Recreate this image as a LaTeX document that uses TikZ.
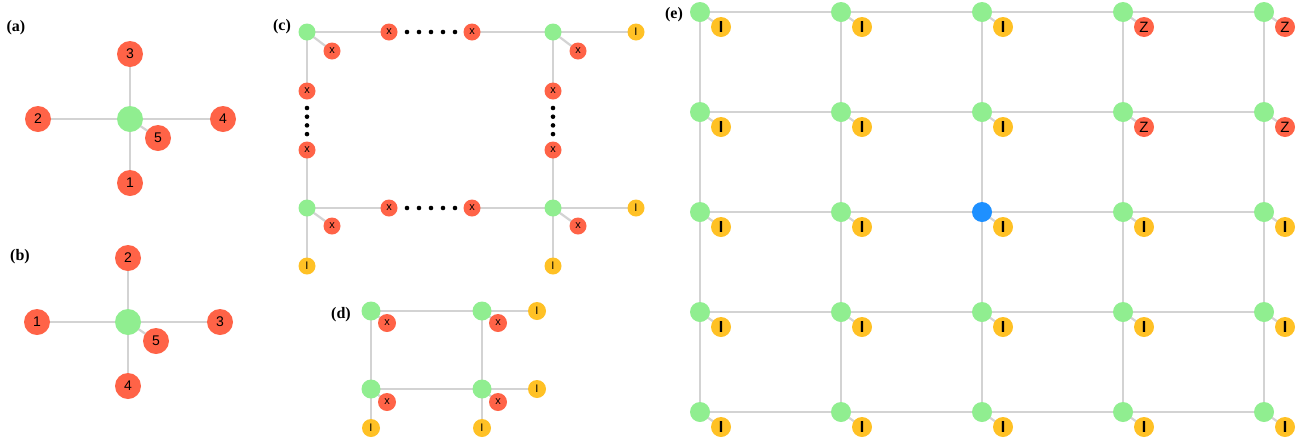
\documentclass[tikz,border=0pt]{standalone}
\usepackage{fontspec}
\newfontfamily\nodefont{Liberation Sans}
\newfontfamily\tagfont{Liberation Serif}
\pgfdeclarelayer{bg}
\pgfsetlayers{bg,main}
\definecolor{nred}{HTML}{FF6347}
\definecolor{ngreen}{HTML}{90EE90}
\definecolor{nyellow}{HTML}{FFC125}
\definecolor{nblue}{HTML}{1E90FF}
\definecolor{edgegray}{HTML}{D3D3D3}
\begin{document}
\begin{tikzpicture}[x=1pt,y=-1pt,
  every node/.style={inner sep=0pt, outer sep=0pt},
  tag/.style={font=\tagfont\bfseries\fontsize{16}{16}\selectfont},
  link/.style={draw=edgegray, line width=2.2pt},
  gbig/.style={circle, fill=ngreen, minimum size=26pt},
  rbig/.style={circle, fill=nred, minimum size=26pt, font=\nodefont\fontsize{14}{14}\selectfont},
  gsm/.style={circle, fill=ngreen, minimum size=17pt},
  rsm/.style={circle, fill=nred, minimum size=17pt, font=\nodefont\fontsize{11}{11}\selectfont},
  ysm/.style={circle, fill=nyellow, minimum size=17pt, font=\nodefont\fontsize{11}{11}\selectfont},
  gmid/.style={circle, fill=ngreen, minimum size=19pt},
  rmid/.style={circle, fill=nred, minimum size=18pt, font=\nodefont\fontsize{11}{11}\selectfont},
  ymid/.style={circle, fill=nyellow, minimum size=18pt, font=\nodefont\fontsize{11}{11}\selectfont},
  gsite/.style={circle, fill=ngreen, minimum size=20pt},
  bsite/.style={circle, fill=nblue, minimum size=20pt},
  ysite/.style={circle, fill=nyellow, minimum size=20pt, font=\nodefont\bfseries\fontsize{16}{16}\selectfont},
  zsite/.style={circle, fill=nred, minimum size=20pt, font=\nodefont\fontsize{15}{15}\selectfont},
  dotmark/.style={fill=black},
]
\useasboundingbox (0,0) rectangle (1302,440);

% ---------- (a) star ----------
\node[tag] (ta) at (16,28) {(a)};
\node[gbig] (ac) at (130,119) {};
\node[rbig] (a3) at (130,54) {3};
\node[rbig] (a2) at (38,119) {2};
\node[rbig] (a4) at (223,119) {4};
\node[rbig] (a5) at (158,138) {5};
\node[rbig] (a1) at (130,183) {1};
\begin{pgfonlayer}{bg}
  \foreach \n in {a1,a2,a3,a4,a5} \draw[link] (ac.center) -- (\n.center);
\end{pgfonlayer}

% ---------- (b) star ----------
\node[tag] (tb) at (20,257) {(b)};
\node[gbig] (bc) at (128,322) {};
\node[rbig] (b2) at (128,258) {2};
\node[rbig] (b1) at (37,322) {1};
\node[rbig] (b3) at (220,322) {3};
\node[rbig] (b5) at (156,341) {5};
\node[rbig] (b4) at (128,386) {4};
\begin{pgfonlayer}{bg}
  \foreach \n in {b1,b2,b3,b4,b5} \draw[link] (bc.center) -- (\n.center);
\end{pgfonlayer}

% ---------- (c) chain with elided sites ----------
\node[tag] (tc) at (282,27) {(c)};
\node[gsm] (c11) at (307,32) {};
\node[gsm] (c12) at (553,32) {};
\node[gsm] (c21) at (307,208) {};
\node[gsm] (c22) at (553,208) {};
\node[rsm] (cx11) at (332,51) {x};
\node[rsm] (cx12) at (578,51) {x};
\node[rsm] (cx21) at (332,226) {x};
\node[rsm] (cx22) at (578,226) {x};
\node[rsm] (ct1) at (389,32) {x};
\node[rsm] (ct2) at (472,32) {x};
\node[rsm] (cb1) at (389,208) {x};
\node[rsm] (cb2) at (472,208) {x};
\node[rsm] (cl1) at (307,91) {x};
\node[rsm] (cl2) at (307,150) {x};
\node[rsm] (cr1) at (553,91) {x};
\node[rsm] (cr2) at (553,150) {x};
\node[ysm] (cy12) at (636,32) {I};
\node[ysm] (cy22) at (636,208) {I};
\node[ysm] (cyb1) at (307,266) {I};
\node[ysm] (cyb2) at (553,266) {I};
\foreach \k in {0,...,4} {
  \fill[dotmark] (407+12*\k,32) circle (2.3);
  \fill[dotmark] (407+12*\k,208) circle (2.3);
}
\foreach \k in {0,...,3} {
  \fill[dotmark] (307,108+8.7*\k) circle (2.3);
  \fill[dotmark] (553,108+8.7*\k) circle (2.3);
}
\begin{pgfonlayer}{bg}
  \draw[link] (c11.center) -- (ct1.center);
  \draw[link] (ct2.center) -- (c12.center);
  \draw[link] (c21.center) -- (cb1.center);
  \draw[link] (cb2.center) -- (c22.center);
  \draw[link] (c11.center) -- (cl1.center);
  \draw[link] (cl2.center) -- (c21.center);
  \draw[link] (c12.center) -- (cr1.center);
  \draw[link] (cr2.center) -- (c22.center);
  \draw[link] (c11.center) -- (cx11.center);
  \draw[link] (c12.center) -- (cx12.center);
  \draw[link] (c21.center) -- (cx21.center);
  \draw[link] (c22.center) -- (cx22.center);
  \draw[link] (c12.center) -- (cy12.center);
  \draw[link] (c22.center) -- (cy22.center);
  \draw[link] (c21.center) -- (cyb1.center);
  \draw[link] (c22.center) -- (cyb2.center);
\end{pgfonlayer}

% ---------- (d) 2x2 plaquette ----------
\node[tag] (td) at (341,315) {(d)};
\node[gmid] (d11) at (371,311) {};
\node[gmid] (d12) at (482,311) {};
\node[gmid] (d21) at (371,389) {};
\node[gmid] (d22) at (482,389) {};
\node[rmid] (dx11) at (387,323) {x};
\node[rmid] (dx12) at (498,323) {x};
\node[rmid] (dx21) at (387,402) {x};
\node[rmid] (dx22) at (498,402) {x};
\node[ymid] (dy12) at (537,311) {I};
\node[ymid] (dy22) at (537,389) {I};
\node[ymid] (dyb1) at (371,428) {I};
\node[ymid] (dyb2) at (482,428) {I};
\begin{pgfonlayer}{bg}
  \draw[link] (d11.center) -- (d12.center);
  \draw[link] (d21.center) -- (d22.center);
  \draw[link] (d11.center) -- (d21.center);
  \draw[link] (d12.center) -- (d22.center);
  \draw[link] (d12.center) -- (dy12.center);
  \draw[link] (d22.center) -- (dy22.center);
  \draw[link] (d21.center) -- (dyb1.center);
  \draw[link] (d22.center) -- (dyb2.center);
  \foreach \n in {11,12,21,22} \draw[link] (d\n.center) -- (dx\n.center);
\end{pgfonlayer}

% ---------- (e) 5x5 lattice ----------
\node[tag] (te) at (674,15) {(e)};
\foreach \i/\x in {1/700,2/841,3/982,4/1123,5/1264} {
  \foreach \j/\y in {1/12,2/112,3/212,4/312,5/412} {
    \ifnum\i=3 \ifnum\j=3
      \node[bsite] (e\i\j) at (\x,\y) {};
    \else
      \node[gsite] (e\i\j) at (\x,\y) {};
    \fi\else
      \node[gsite] (e\i\j) at (\x,\y) {};
    \fi
    \pgfmathtruncatemacro{\zflag}{(\i>3)&&(\j<3)}
    \ifnum\zflag=1
      \node[zsite] (f\i\j) at (\x+21,\y+15) {Z};
    \else
      \node[ysite] (f\i\j) at (\x+21,\y+15) {I};
    \fi
  }
}
\begin{pgfonlayer}{bg}
  \foreach \i in {1,...,5} {
    \draw[link] (e\i1.center) -- (e\i5.center);
    \draw[link] (e1\i.center) -- (e5\i.center);
    \foreach \j in {1,...,5} \draw[link] (e\i\j.center) -- (f\i\j.center);
  }
\end{pgfonlayer}
\end{tikzpicture}
\end{document}
